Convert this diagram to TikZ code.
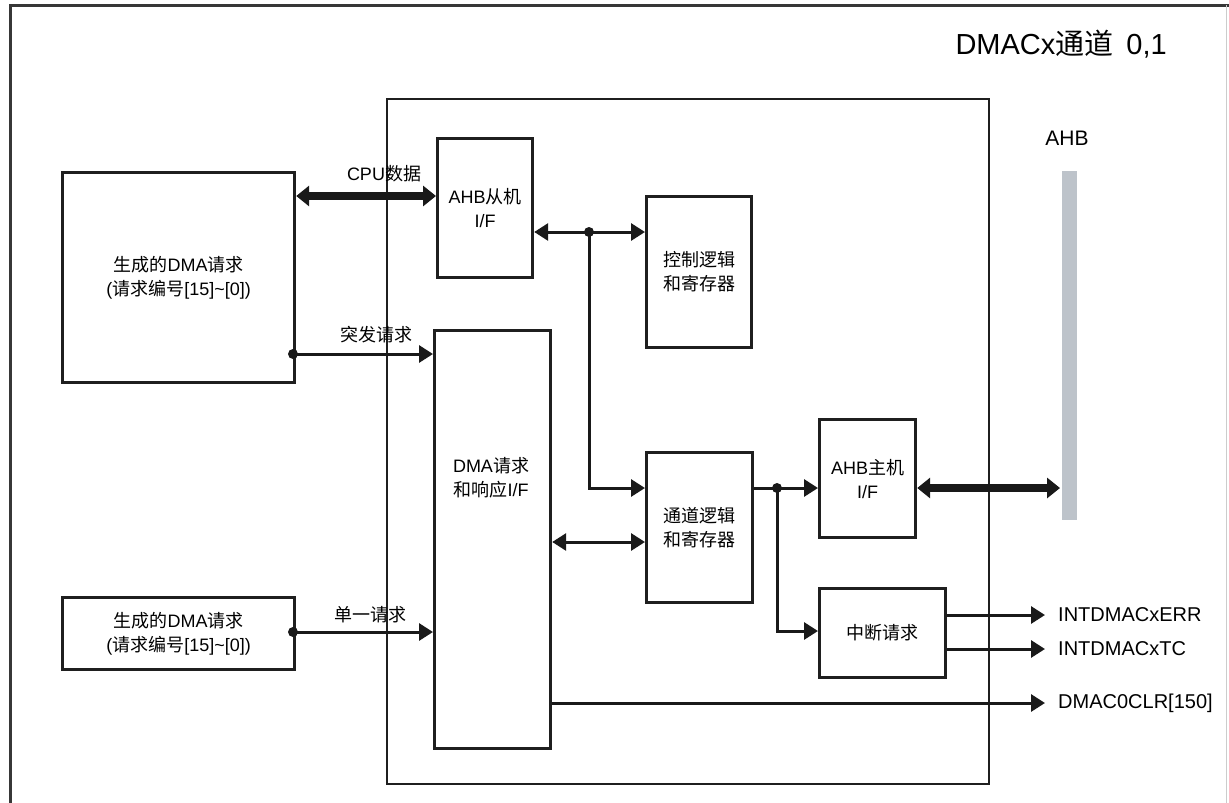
\documentclass[tikz,border=0pt]{standalone}
\usepackage{fontspec}
\setmainfont{Liberation Sans}
\newfontfamily\cjk{Noto Sans CJK SC}
\newcommand\zh[1]{{\cjk #1}}
\usetikzlibrary{arrows.meta}
\definecolor{ahbgray}{RGB}{189,195,202}
\definecolor{framegray}{RGB}{55,55,55}
\begin{document}
\begin{tikzpicture}[x=1pt,y=-1pt,
  blk/.style={draw=black!88, line width=3.2pt, fill=white, inner sep=0pt, align=center,
    font=\fontsize{18}{24}\selectfont, anchor=north west},
  lbl/.style={font=\fontsize{18}{24}\selectfont, inner sep=0pt, align=center},
  olbl/.style={font=\fontsize{20}{24}\selectfont, inner sep=0pt, anchor=west},
  wire/.style={line width=3pt, draw=black!90},
  arr/.style={wire, -{Triangle[length=14pt,width=17pt]}},
  darr/.style={wire, {Triangle[length=14pt,width=17pt]}-{Triangle[length=14pt,width=17pt]}},
  bus/.style={line width=8pt, draw=black!90, {Triangle[length=13pt,width=20pt]}-{Triangle[length=13pt,width=20pt]}},
  dot/.style={circle, fill=black!90, inner sep=0pt, minimum size=10pt}]
\useasboundingbox (0,0) rectangle (1229,803);
% outer frame
\draw[line width=3pt, framegray] (10,803) -- (10,5) -- (1229,5);
\draw[line width=1pt, black!20] (1226,5) -- (1226,803);
% title
\node[font=\fontsize{29}{32}\selectfont, anchor=east, inner sep=0pt] (title) at (1167,44) {DMACx\zh{通道}\hspace{0.45em}0,1};
% inner box
\node[draw=black!88, line width=2.4pt, minimum width=602pt, minimum height=685pt, anchor=north west, inner sep=0pt] (inner) at (386,98) {};
% AHB bus bar
\node[fill=ahbgray, minimum width=15pt, minimum height=349pt, anchor=north west, inner sep=0pt] (bar) at (1062,171) {};
\node[font=\fontsize{21}{24}\selectfont, inner sep=0pt] (ahblbl) at (1067,138) {AHB};
% blocks
\node[blk, minimum width=232pt, minimum height=210pt] (gen1) at (61,171) {\zh{生成的}DMA\zh{请求}\\(\zh{请求编号}[15]\textasciitilde[0])};
\node[blk, minimum width=232pt, minimum height=72pt] (gen2) at (61,596) {\zh{生成的}DMA\zh{请求}\\(\zh{请求编号}[15]\textasciitilde[0])};
\node[blk, minimum width=95pt, minimum height=139pt] (slave) at (436,137) {AHB\zh{从机}\\I/F};
\node[blk, minimum width=105pt, minimum height=151pt] (ctrl) at (645,195) {\zh{控制逻辑}\\\zh{和寄存器}};
\node[blk, minimum width=116pt, minimum height=418pt] (dmareq) at (433,329) {};
\node[lbl] (dmareqlbl) at (491,478) {DMA\zh{请求}\\\zh{和响应}I/F};
\node[blk, minimum width=106pt, minimum height=150pt] (chan) at (645,451) {\zh{通道逻辑}\\\zh{和寄存器}};
\node[blk, minimum width=96pt, minimum height=118pt] (master) at (818,418) {AHB\zh{主机}\\I/F};
\node[blk, minimum width=126pt, minimum height=89pt] (intr) at (818,587) {\zh{中断请求}};
% level coordinates
\coordinate (ycpu) at (0,196);
\coordinate (ysl) at (0,232);
\coordinate (yb) at (0,354);
\coordinate (ych) at (0,488);
\coordinate (ydr) at (0,542);
\coordinate (yi) at (0,631);
% junction dots
\node[dot] (j1) at (589,232) {};
\node[dot] (j2) at (777,488) {};
\node[dot] (jb) at (293,354) {};
\node[dot] (js) at (293,632) {};
% CPU data bus
\draw[bus] (gen1.east |- ycpu) -- (slave.west |- ycpu);
\node[lbl] (cpulbl) at (384,174) {CPU\zh{数据}};
% slave <-> control
\draw[darr] (slave.east |- ysl) -- (ctrl.west |- ysl);
\draw[arr] (j1.center) |- (chan.west |- ych);
% burst / single requests
\draw[arr] (jb.center) -- (dmareq.west |- jb);
\node[lbl] (burstlbl) at (376,335) {\zh{突发请求}};
\draw[arr] (js.center) -- (dmareq.west |- js);
\node[lbl] (singlelbl) at (370,615) {\zh{单一请求}};
% dma req <-> channel
\draw[darr] (dmareq.east |- ydr) -- (chan.west |- ydr);
% channel -> master / interrupt
\draw[wire] (chan.east |- ych) -- (j2.center);
\draw[arr] (j2.center) -- (master.west |- ych);
\draw[arr] (j2.center) |- (intr.west |- yi);
% master <-> AHB
\draw[bus] (master.east |- ych) -- ([xshift=-2pt]bar.west |- ych);
% outputs
\node[olbl] (terr) at (1058,615) {INTDMACxERR};
\node[olbl] (ttc) at (1058,649) {INTDMACxTC};
\node[olbl] (tclr) at (1058,703) {DMAC0CLR[150]};
\draw[arr] (intr.east |- terr) -- ([xshift=-13pt]terr.west);
\draw[arr] (intr.east |- ttc) -- ([xshift=-13pt]ttc.west);
\draw[arr] (dmareq.east |- tclr) -- ([xshift=-13pt]tclr.west);
\end{tikzpicture}
\end{document}
